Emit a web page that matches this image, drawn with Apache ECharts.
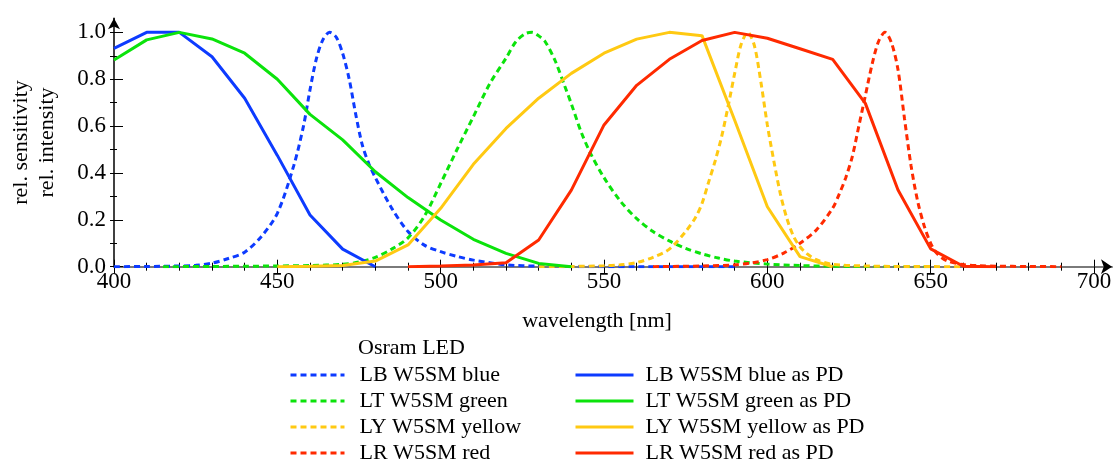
<!DOCTYPE html>
<html>
<head>
<meta charset="utf-8">
<script src="https://cdn.jsdelivr.net/npm/echarts@6/dist/echarts.min.js"></script>
<style>
  html, body {margin: 0; padding: 0; background: #fff;}
  #chart {width: 1120px; height: 468px;}
</style>
</head>
<body>
<div id="chart"></div>
<script>
// LED emission spectra (dashed)
const blueLedWl = [400, 410, 420, 425, 430, 435, 440, 445, 450, 455, 458, 460, 462, 464, 466, 468, 470, 472, 474, 476, 478, 480, 485, 490, 495, 500, 505, 510, 520, 530, 540, 560, 590]
const blueLedVal = [0, 0.001, 0.003, 0.006, 0.015, 0.035, 0.062, 0.127, 0.228, 0.43, 0.6, 0.755, 0.89, 0.97, 1.0, 0.98, 0.91, 0.8, 0.65, 0.52, 0.44, 0.38, 0.25, 0.15, 0.092, 0.064, 0.044, 0.028, 0.008, 0.002, 0, 0, 0]

const greenLedWl = [415, 430, 440, 450, 460, 470, 475, 480, 485, 490, 495, 500, 505, 510, 515, 520, 523, 526, 528, 530, 532, 535, 538, 540, 543, 546, 550, 555, 560, 565, 570, 575, 580, 585, 590, 600, 610, 620, 630, 650]
const greenLedVal = [0, 0.001, 0.002, 0.003, 0.005, 0.01, 0.02, 0.04, 0.075, 0.123, 0.215, 0.355, 0.5, 0.64, 0.78, 0.89, 0.96, 0.995, 1.0, 0.985, 0.96, 0.88, 0.77, 0.695, 0.575, 0.48, 0.38, 0.28, 0.205, 0.15, 0.11, 0.078, 0.055, 0.037, 0.024, 0.011, 0.005, 0.002, 0.001, 0]

const yellowLedWl = [530, 540, 550, 555, 560, 565, 570, 575, 578, 580, 582, 584, 586, 588, 590, 592, 594, 596, 598, 600, 602, 604, 606, 608, 610, 612, 615, 620, 630, 640, 660]
const yellowLedVal = [0, 0.001, 0.004, 0.008, 0.018, 0.04, 0.075, 0.15, 0.21, 0.27, 0.36, 0.45, 0.555, 0.685, 0.825, 0.95, 1.0, 0.945, 0.79, 0.605, 0.45, 0.31, 0.205, 0.13, 0.085, 0.057, 0.03, 0.01, 0.003, 0.001, 0]

const redLedWl = [565, 570, 580, 590, 595, 600, 605, 610, 615, 620, 622, 624, 626, 628, 630, 632, 634, 636, 638, 640, 642, 644, 646, 648, 650, 652, 655, 660, 665, 670, 680, 690]
const redLedVal = [0, 0.001, 0.003, 0.008, 0.016, 0.03, 0.058, 0.1, 0.157, 0.25, 0.31, 0.38, 0.47, 0.6, 0.73, 0.86, 0.96, 1.0, 0.955, 0.84, 0.63, 0.43, 0.28, 0.175, 0.1, 0.055, 0.025, 0.009, 0.004, 0.002, 0.001, 0]

// LEDs used as photodiodes (solid)
const bluePdWl = [400, 410, 420, 430, 440, 450, 460, 470, 480]
const bluePdVal = [0.932, 1.0, 1.0, 0.896, 0.719, 0.475, 0.221, 0.075, 0]

const greenPdWl = [400, 410, 420, 430, 440, 450, 460, 470, 480, 490, 500, 510, 520, 530, 540]
const greenPdVal = [0.882, 0.968, 1.0, 0.972, 0.911, 0.8, 0.65, 0.541, 0.405, 0.295, 0.199, 0.117, 0.057, 0.014, 0]

const yellowPdWl = [450, 460, 470, 480, 490, 500, 510, 520, 530, 540, 550, 560, 570, 580, 590, 600, 610, 620]
const yellowPdVal = [0, 0.002, 0.005, 0.024, 0.093, 0.249, 0.437, 0.59, 0.719, 0.825, 0.911, 0.971, 1.0, 0.986, 0.625, 0.256, 0.043, 0]

const redPdWl = [490, 500, 510, 520, 530, 540, 550, 560, 570, 580, 590, 600, 610, 620, 630, 640, 650, 660, 670]
const redPdVal = [0, 0.003, 0.007, 0.017, 0.114, 0.327, 0.605, 0.774, 0.885, 0.965, 1.0, 0.975, 0.93, 0.885, 0.697, 0.327, 0.076, 0.002, 0]

const ledNames = ['LB W5SM blue', 'LT W5SM green', 'LY W5SM yellow', 'LR W5SM red']
const pdNames = ['LB W5SM blue as PD', 'LT W5SM green as PD', 'LY W5SM yellow as PD', 'LR W5SM red as PD']

// ticks
const xMajor = [400, 450, 500, 550, 600, 650, 700]
const xMinor = [410, 420, 430, 440, 460, 470, 480, 490, 510, 520, 530, 540, 560, 570, 580, 590, 610, 620, 630, 640, 660, 670, 680, 690]
const yMajor = [0, 0.2, 0.4, 0.6, 0.8, 1.0]
const yMinor = [0.1, 0.3, 0.5, 0.7, 0.9]

const colors = ['#0d3bff', '#0be30b', '#ffc912', '#ff2a00']
const font = 'Liberation Serif, Times New Roman, serif'

const pairs = (xs, ys) => xs.map((x, i) => [x, ys[i]])

const chart = echarts.init(document.getElementById('chart'))

const X_MIN = 400, X_MAX = 705.5
const Y_MIN = 0, Y_MAX = 1.06

const baseX = {
  type: 'value', min: X_MIN, max: X_MAX, position: 'bottom',
  splitLine: {show: false}, axisLabel: {show: false}, axisLine: {show: false}
}
const baseY = {
  type: 'value', min: Y_MIN, max: Y_MAX, position: 'left',
  splitLine: {show: false}, axisLabel: {show: false}, axisLine: {show: false}
}
const tick = (values, inside, length) => ({
  show: true, inside, length, customValues: values,
  lineStyle: {color: '#000', width: 1}
})

const ledSeries = [blueLedWl, greenLedWl, yellowLedWl, redLedWl].map((wl, i) => ({
  name: ledNames[i],
  type: 'line',
  data: pairs(wl, [blueLedVal, greenLedVal, yellowLedVal, redLedVal][i]),
  symbol: 'none',
  smooth: 0.3,
  lineStyle: {color: colors[i], width: 3, type: [6, 4]},
  itemStyle: {color: colors[i]}
}))

const pdSeries = [bluePdWl, greenPdWl, yellowPdWl, redPdWl].map((wl, i) => ({
  name: pdNames[i],
  type: 'line',
  data: pairs(wl, [bluePdVal, greenPdVal, yellowPdVal, redPdVal][i]),
  symbol: 'none',
  lineStyle: {color: colors[i], width: 3, type: 'solid'},
  itemStyle: {color: colors[i]}
}))

// legend: line only, the symbol is hidden
const legendBase = {
  orient: 'vertical',
  top: 364,
  padding: 0,
  itemHeight: 22,
  itemGap: 4,
  selectedMode: false,
  itemStyle: {opacity: 0},
  lineStyle: {width: 3}
}

const option = {
  animation: false,
  backgroundColor: '#fff',
  grid: {left: 114, right: 8, top: 18.3, bottom: 201.3, outerBoundsMode: 'none', containLabel: false},
  title: {
    text: 'Osram LED',
    left: 358, top: 337, padding: 0,
    textStyle: {fontFamily: font, fontSize: 22, fontWeight: 'normal', color: '#000'}
  },
  legend: [
    Object.assign({}, legendBase, {
      left: 289, itemWidth: 54,
      data: ledNames,
      textStyle: {fontFamily: font, fontSize: 22, color: '#000', padding: [0, 0, 0, 10]}
    }),
    Object.assign({}, legendBase, {
      left: 574, itemWidth: 58,
      data: pdNames,
      textStyle: {fontFamily: font, fontSize: 22, color: '#000', padding: [0, 0, 0, 7]}
    })
  ],
  xAxis: [
    Object.assign({}, baseX, {
      name: 'wavelength [nm]',
      nameLocation: 'middle',
      nameGap: 44,
      nameMoveOverlap: false,
      nameTextStyle: {fontFamily: font, fontSize: 22, color: '#000', padding: [0, 32, 0, 0]},
      axisLine: {show: true, onZero: false, lineStyle: {color: '#7a7a7a', width: 2}},
      axisTick: tick(xMajor, true, 7),
      axisLabel: {
        show: true, customValues: xMajor, margin: 4,
        fontFamily: font, fontSize: 23, color: '#000'
      }
    }),
    Object.assign({}, baseX, {
      axisLine: {show: true, onZero: false, symbol: ['none', 'arrow'], symbolSize: [11, 11], lineStyle: {color: '#000', width: 0}},
      axisTick: tick(xMajor, false, 7)
    }),
    Object.assign({}, baseX, {axisTick: tick(xMinor, true, 4)}),
    Object.assign({}, baseX, {axisTick: tick(xMinor, false, 4)})
  ],
  yAxis: [
    Object.assign({}, baseY, {
      name: 'rel. sensitivity\nrel. intensity',
      nameLocation: 'middle',
      nameRotate: 90,
      nameGap: 54,
      nameMoveOverlap: false,
      nameTextStyle: {fontFamily: font, fontSize: 22, color: '#000', lineHeight: 26},
      axisLine: {show: true, onZero: false, symbol: ['none', 'arrow'], symbolSize: [9, 11], lineStyle: {color: '#000', width: 1.5}},
      axisTick: tick(yMajor, true, 9),
      axisLabel: {
        show: true, customValues: yMajor, margin: 8,
        formatter: v => v.toFixed(1),
        fontFamily: font, fontSize: 23, color: '#000'
      }
    }),
    Object.assign({}, baseY, {axisTick: tick(yMajor, false, 4)}),
    Object.assign({}, baseY, {axisTick: tick(yMinor, true, 3)}),
    Object.assign({}, baseY, {axisTick: tick(yMinor, false, 4)})
  ],
  series: ledSeries.concat(pdSeries)
}

chart.setOption(option)
window.addEventListener('resize', () => chart.resize())
</script>
</body>
</html>
